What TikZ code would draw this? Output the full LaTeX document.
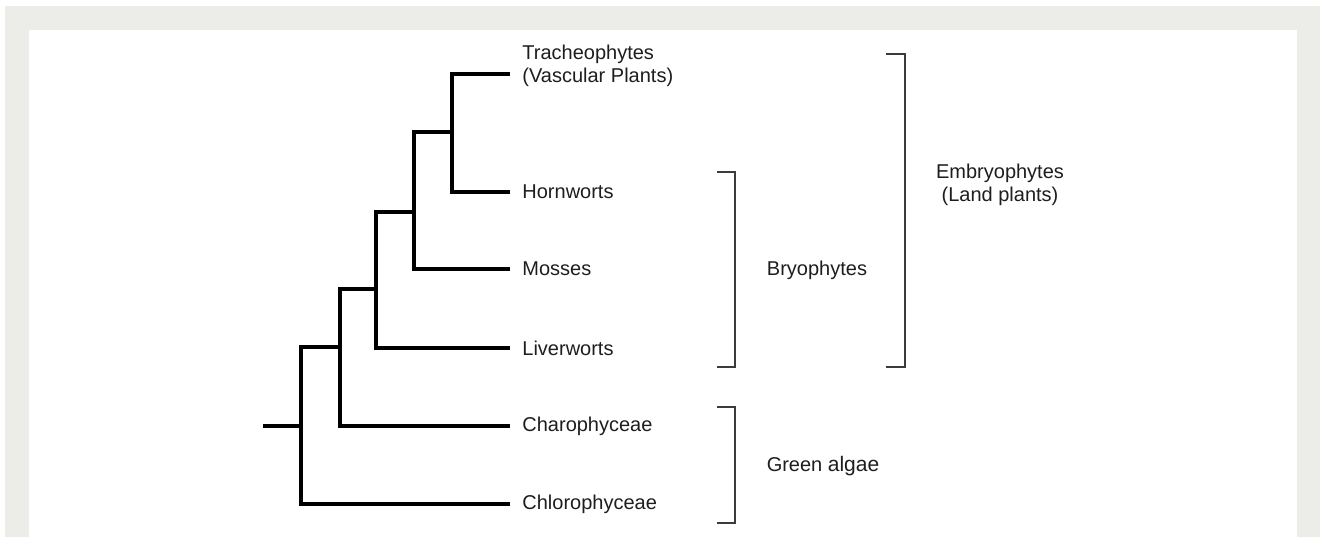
\documentclass[tikz,border=0pt]{standalone}
\usepackage{fontspec}
\setmainfont{Liberation Sans}
\usepackage{tikz}
\usetikzlibrary{positioning}
\definecolor{framegray}{RGB}{236,237,232}
\definecolor{inkgray}{RGB}{30,30,30}
\definecolor{brackgray}{RGB}{60,60,60}

\begin{document}
\begin{tikzpicture}[x=0.5pt,y=-0.5pt,font=\fontsize{10}{11.5}\selectfont,
  branch/.style={line width=1.9pt,line cap=rect,black},
  bracket/.style={line width=0.75pt,brackgray},
  leaf/.style={anchor=west,inner xsep=7pt,inner ysep=0pt,text=inkgray},
  group/.style={align=center,inner sep=0pt,text=inkgray}]
  \useasboundingbox (0,0) rectangle (1320,537);
  \fill[framegray] (5,6) rectangle (1320,537);
  \fill[white] (29,30) rectangle (1297,537);
  % internal nodes of the tree
  \coordinate(r0)at(265,426);\coordinate(n5)at(301,426);\coordinate(n4)at(340,347);
  \coordinate(n3)at(376,289);\coordinate(n2)at(414,212);\coordinate(n1)at(452,132);
  % leaves
  \node[leaf,align=left] (tra) at (508,66) {Tracheophytes\\(Vascular Plants)};
  \coordinate(ttra)at(508,74);
  \node[leaf] (hor) at (508,192) {Hornworts};
  \node[leaf] (mos) at (508,269) {Mosses};
  \node[leaf] (liv) at (508,348) {Liverworts};
  \node[leaf] (cha) at (508,426) {Charophyceae};
  \node[leaf] (chl) at (508,504) {Chlorophyceae};
  \draw[branch] (n1) |- (ttra) (n1) |- (hor.west);
  \draw[branch] (n2) |- (n1) (n2) |- (mos.west);
  \draw[branch] (n3) |- (n2) (n3) |- (liv.west);
  \draw[branch] (n4) |- (n3) (n4) |- (cha.west);
  \draw[branch] (n5) |- (n4) (n5) |- (chl.west);
  \draw[branch] (r0) -- (n5);
  % brackets
  \coordinate(b1)at(717,172);\coordinate(b2)at(735,367);
  \coordinate(b3)at(886,54);\coordinate(b4)at(905,367);
  \coordinate(b5)at(717,407);\coordinate(b6)at(735,523);
  \draw[bracket] (b1) -| (b2) -- (b2 -| b1);
  \draw[bracket] (b3) -| (b4) -- (b4 -| b3);
  \draw[bracket] (b5) -| (b6) -- (b6 -| b5);
  \node[group] (bry) at (817,270) {Bryophytes};
  \node[group] (emb) at (1000,185) {Embryophytes\\(Land plants)};
  \node[group] (alg) at (823,466) {Green {\fontsize{10.5}{12}\selectfont algae}};
\end{tikzpicture}
\end{document}
